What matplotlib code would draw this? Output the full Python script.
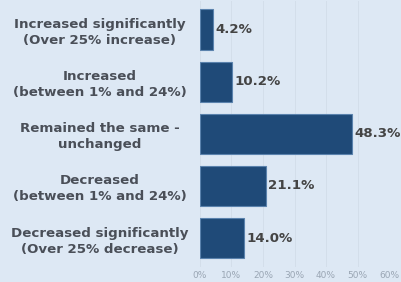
import matplotlib
matplotlib.use("Agg")
import matplotlib.pyplot as plt
import numpy as np

categories = [
    "Increased significantly\n(Over 25% increase)",
    "Increased\n(between 1% and 24%)",
    "Remained the same -\nunchanged",
    "Decreased\n(between 1% and 24%)",
    "Decreased significantly\n(Over 25% decrease)",
]
values = [4.2, 10.2, 48.3, 21.1, 14.0]
xticks = [0, 10, 20, 30, 40, 50, 60]

bg = "#dde8f4"
fig = plt.figure(figsize=(4.02, 2.82), dpi=100, facecolor=bg)
ax = fig.add_axes([200 / 402, 0.054, 189 / 402, 0.943])
ax.set_facecolor(bg)

y = np.arange(len(values))
ax.barh(y, values, height=0.77, color="#1f4a78", edgecolor="#5a82ad", linewidth=0.8, zorder=3)
for yi, v in zip(y, values):
    ax.text(v + 0.6, yi, f"{v:.1f}%", va="center", ha="left", fontsize=9.6,
            fontweight="bold", color="#444444", family="DejaVu Sans")

ax.set_xlim(0, 60)
ax.set_ylim(4.55, -0.55)
ax.set_xticks(xticks)
ax.set_xticklabels([f"{t}%" for t in xticks], fontsize=6.5, color="#9aa6b4", family="DejaVu Sans")
ax.set_yticks(y)
ax.set_yticklabels(categories, fontsize=9.6, fontweight="bold", color="#4a4f58",
                   family="DejaVu Sans", ha="center", linespacing=1.3)
ax.tick_params(axis="y", length=0, pad=72)
ax.tick_params(axis="x", length=0, pad=3)
ax.grid(axis="x", color="#d3deea", linewidth=0.7, zorder=0)
for s in ax.spines.values():
    s.set_visible(False)

plt.savefig("out.png", facecolor=bg)
